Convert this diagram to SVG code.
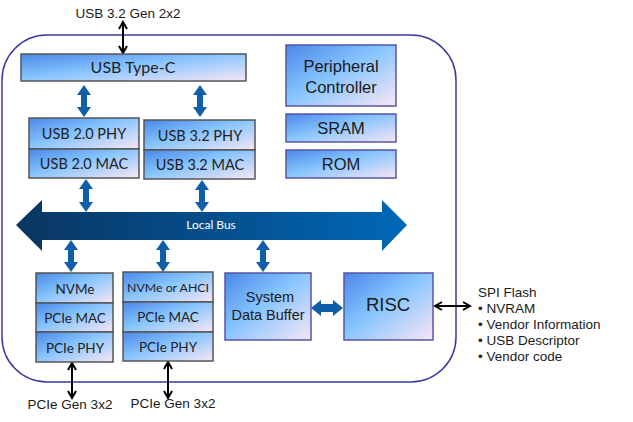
<svg xmlns="http://www.w3.org/2000/svg" width="633" height="422" viewBox="0 0 633 422">
<defs>
<linearGradient id="box" x1="0" y1="0" x2="1" y2="1">
<stop offset="0" stop-color="#4a88e8"/>
<stop offset="0.45" stop-color="#86c4ff"/>
<stop offset="1" stop-color="#f8e6f4"/>
</linearGradient>
<linearGradient id="bus" x1="0" y1="0" x2="1" y2="0">
<stop offset="0" stop-color="#0a3561"/>
<stop offset="1" stop-color="#0068b8"/>
</linearGradient>
<marker id="ah" markerWidth="10" markerHeight="10" refX="8" refY="5" orient="auto-start-reverse" markerUnits="userSpaceOnUse">
<path d="M1,1 L8,5 L1,9" fill="none" stroke="#000" stroke-width="2"/>
</marker>
<style>
.gb{fill:url(#box);stroke:#555;stroke-width:1.5}
.pb{fill:url(#box);stroke:#5656a8;stroke-width:1.5}
.cal{font-family:Lato,"Open Sans","Noto Sans",sans-serif;fill:#222;text-anchor:middle}
.ar{font-family:"Liberation Sans",Arial,sans-serif;fill:#1a1a1a;text-anchor:middle}
.lbl{font-family:"Liberation Sans",Arial,sans-serif;fill:#1a1a1a;font-size:13.5px}
.ba{fill:#0e5ea8}
.ka{fill:none;stroke:#000;stroke-width:2;marker-start:url(#ah);marker-end:url(#ah)}
</style>
</defs>
<rect width="633" height="422" fill="#fff"/>
<rect id="chip" x="2" y="35" width="454" height="347" rx="45" ry="45" fill="none" stroke="#3a3aa0" stroke-width="1.5"/>

<g id="connectors">
<line class="ka" x1="123" y1="22" x2="123" y2="53"/>
<line class="ka" x1="72" y1="363" x2="72" y2="398"/>
<line class="ka" x1="168" y1="362" x2="168" y2="398"/>
<line class="ka" x1="435" y1="306" x2="470" y2="306"/>
<path class="ba" d="M84,85 L91,95 L87,95 L87,107 L91,107 L84,117 L77,107 L81,107 L81,95 L77,95 Z"/>
<path class="ba" d="M200,85 L207,95 L203,95 L203,107 L207,107 L200,117 L193,107 L197,107 L197,95 L193,95 Z"/>
<path class="ba" d="M86,179 L93,189 L89,189 L89,202 L93,202 L86,212 L79,202 L83,202 L83,189 L79,189 Z"/>
<path class="ba" d="M202,180 L209,190 L205,190 L205,202 L209,202 L202,212 L195,202 L199,202 L199,190 L195,190 Z"/>
<path class="ba" d="M71,240 L78,250 L74,250 L74,262 L78,262 L71,272 L64,262 L68,262 L68,250 L64,250 Z"/>
<path class="ba" d="M163,240 L170,250 L166,250 L166,262 L170,262 L163,272 L156,262 L160,262 L160,250 L156,250 Z"/>
<path class="ba" d="M263,240 L270,250 L266,250 L266,262 L270,262 L263,272 L256,262 L260,262 L260,250 L256,250 Z"/>
<path class="ba" d="M311,308 L321,300 L321,304 L333,304 L333,300 L343,308 L333,316 L333,312 L321,312 L321,316 Z"/>
</g>

<g id="local-bus">
<path d="M16,225 L42,200 L42,212 L382,212 L382,200 L407,225 L382,251 L382,240 L42,240 L42,251 Z" fill="url(#bus)"/>
<text x="211" y="229" font-family="Lato,'Open Sans',sans-serif" font-size="12" fill="#fff" text-anchor="middle">Local Bus</text>
</g>

<text class="lbl" x="128" y="18" text-anchor="middle">USB 3.2 Gen 2x2</text>

<g id="usb-typec">
<rect class="gb" x="21" y="54" width="225" height="27"/>
<text class="cal" x="133" y="73" font-size="16">USB Type-C</text>
</g>

<g id="usb20">
<rect class="gb" x="29" y="118" width="110" height="31"/>
<rect class="gb" x="29" y="149" width="110" height="29"/>
<text class="cal" x="84" y="139" font-size="14.5">USB 2.0 PHY</text>
<text class="cal" x="84" y="169" font-size="14.5">USB 2.0 MAC</text>
</g>

<g id="usb32">
<rect class="gb" x="144" y="120" width="111" height="30"/>
<rect class="gb" x="144" y="150" width="111" height="29"/>
<text class="cal" x="200" y="141" font-size="14.5">USB 3.2 PHY</text>
<text class="cal" x="200" y="170" font-size="14.5">USB 3.2 MAC</text>
</g>

<g id="peripheral">
<rect class="pb" x="286" y="45" width="110" height="61"/>
<text class="ar" x="341" y="72" font-size="16.5">Peripheral</text>
<text class="ar" x="341" y="93" font-size="16.5">Controller</text>
</g>
<g id="sram">
<rect class="pb" x="286" y="114" width="110" height="28"/>
<text class="ar" x="341" y="134" font-size="16.5">SRAM</text>
</g>
<g id="rom">
<rect class="pb" x="286" y="150" width="110" height="28"/>
<text class="ar" x="341" y="170" font-size="16.5">ROM</text>
</g>

<g id="nvme">
<rect class="gb" x="36" y="273" width="77" height="30"/>
<rect class="gb" x="36" y="303" width="77" height="29"/>
<rect class="gb" x="36" y="332" width="77" height="30"/>
<text class="cal" x="75" y="294" font-size="13.5">NVMe</text>
<text class="cal" x="75" y="323" font-size="13.5">PCIe MAC</text>
<text class="cal" x="75" y="353" font-size="13.5">PCIe PHY</text>
</g>

<g id="nvme-ahci">
<rect class="gb" x="123" y="272" width="90" height="30"/>
<rect class="gb" x="123" y="302" width="90" height="30"/>
<rect class="gb" x="123" y="332" width="90" height="29"/>
<text class="cal" x="168" y="292" font-size="12.3">NVMe or AHCI</text>
<text class="cal" x="168" y="322" font-size="13.5">PCIe MAC</text>
<text class="cal" x="168" y="352" font-size="13.5">PCIe PHY</text>
</g>

<g id="sdb">
<rect class="pb" x="225" y="273" width="86" height="67"/>
<text class="ar" x="270" y="302" font-size="14.5">System</text>
<text class="ar" x="268" y="320" font-size="14.5">Data Buffer</text>
</g>

<g id="risc">
<rect class="pb" x="344" y="273" width="89" height="67"/>
<text class="ar" x="388" y="311" font-size="18.5">RISC</text>
</g>

<g id="spi">
<text class="lbl" x="478" y="297">SPI Flash</text>
<text class="lbl" x="478" y="313">• NVRAM</text>
<text class="lbl" x="478" y="329">• Vendor Information</text>
<text class="lbl" x="478" y="345">• USB Descriptor</text>
<text class="lbl" x="478" y="361">• Vendor code</text>
</g>

<text class="lbl" x="70" y="409" text-anchor="middle">PCIe Gen 3x2</text>
<text class="lbl" x="173" y="408" text-anchor="middle">PCIe Gen 3x2</text>
</svg>
